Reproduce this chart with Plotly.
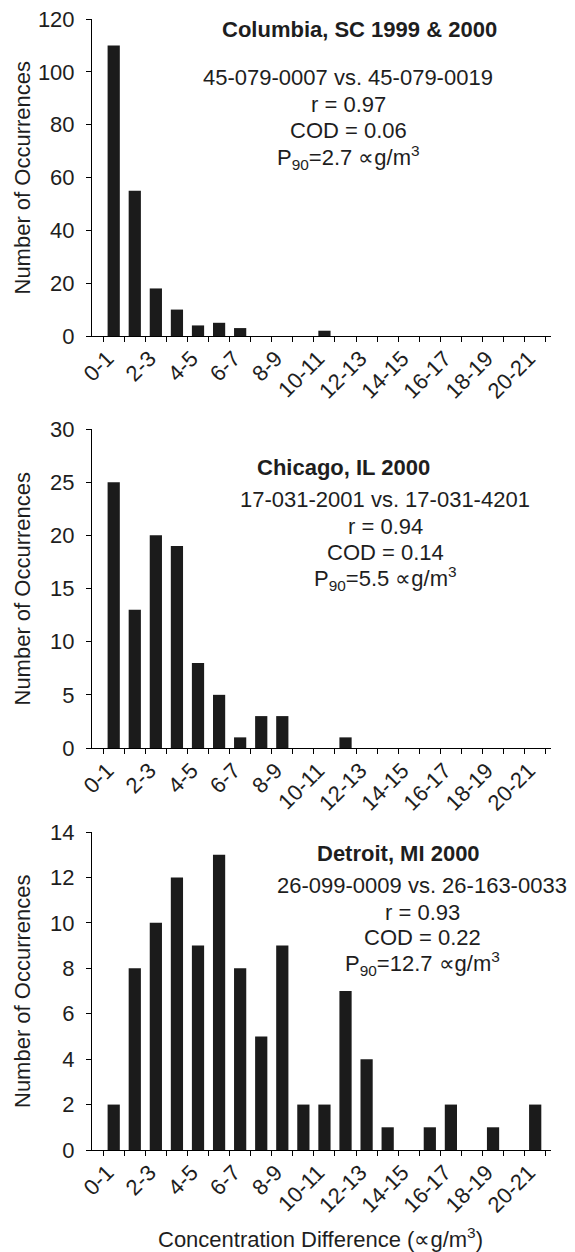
import plotly.graph_objects as go

# ---------------- data ----------------
categories = ["0-1", "1-2", "2-3", "3-4", "4-5", "5-6", "6-7", "7-8", "8-9", "9-10",
              "10-11", "11-12", "12-13", "13-14", "14-15", "15-16", "16-17", "17-18",
              "18-19", "19-20", "20-21"]

columbia_counts = [110, 55, 18, 10, 4, 5, 3, 0, 0, 0, 2, 0, 0, 0, 0, 0, 0, 0, 0, 0, 0]
chicago_counts = [25, 13, 20, 19, 8, 5, 1, 3, 3, 0, 0, 1, 0, 0, 0, 0, 0, 0, 0, 0, 0]
detroit_counts = [2, 8, 10, 12, 9, 13, 8, 5, 9, 2, 2, 7, 4, 1, 0, 1, 2, 0, 1, 0, 2]

panel_titles = ["Columbia, SC 1999 &amp; 2000", "Chicago, IL 2000", "Detroit, MI 2000"]
site_pairs = ["45-079-0007 vs. 45-079-0019", "17-031-2001 vs. 17-031-4201",
              "26-099-0009 vs. 26-163-0033"]
r_values = ["0.97", "0.94", "0.93"]
cod_values = ["0.06", "0.14", "0.22"]
p90_values = ["2.7", "5.5", "12.7"]
y_max = [120, 30, 14]
y_step = [20, 5, 2]

y_title = "Number of Occurrences"
x_title = "Concentration Difference (\u221dg/m<sup>3</sup>)"

# ---------------- layout helpers ----------------
W, H = 575, 1252
ML, MR, MT, MB = 92, 24, 19, 102
PW = W - ML - MR
PH = H - MT - MB
FONT = "Liberation Sans, Arial, sans-serif"
TXT = "#1e1e1e"
FS = 22
LABEL_SHIFT = -0.3   # tick labels sit slightly left of the bar centres


def px(x, y):
    return (x - ML) / PW, 1 - (y - MT) / PH


# pixel extents of the three plot areas (top, bottom)
panel_px = [(19, 336), (429, 748), (832, 1150)]

# annotation positions in pixels: (title_x, title_y, lines_x, [line ys])
ann_px = [
    (359, 30, 348, [77, 104, 130, 157]),
    (343, 468, 385, [499, 526, 552, 578]),
    (398, 853, 422, [885, 912, 937, 963]),
]

fig = go.Figure()
x_idx = list(range(len(categories)))
all_counts = [columbia_counts, chicago_counts, detroit_counts]

annotations = []
for i, counts in enumerate(all_counts):
    sfx = "" if i == 0 else str(i + 1)
    fig.add_trace(go.Bar(
        x=x_idx, y=counts, width=0.58,
        marker=dict(color="#1b1b1b", line=dict(width=0)),
        xaxis="x" + sfx, yaxis="y" + sfx, showlegend=False,
        hovertext=categories,
    ))
    top, bot = panel_px[i]
    d0 = px(0, bot)[1]
    d1 = px(0, top)[1]
    xa = dict(
        domain=[0, 1], anchor="y" + sfx, automargin=False,
        range=[-1.03, 20.75],
        tickmode="array", tickvals=[v + LABEL_SHIFT for v in x_idx[::2]],
        ticktext=categories[::2],
        tickangle=-45, ticks="",
        showline=True, linecolor="black", linewidth=1,
        showgrid=False, zeroline=False,
        tickfont=dict(family=FONT, size=FS, color=TXT),
        minor=dict(tick0=-0.5, dtick=1, ticks="outside", ticklen=5,
                   tickcolor="black", tickwidth=1, showgrid=False),
    )
    ya = dict(
        domain=[max(0, d0), min(1, d1)], anchor="x" + sfx, automargin=False,
        range=[0, y_max[i]], tickmode="linear", tick0=0, dtick=y_step[i],
        ticks="outside", ticklen=5, tickcolor="black", tickwidth=1,
        ticklabelstandoff=7,
        showline=True, linecolor="black", linewidth=1,
        showgrid=False, zeroline=False,
        tickfont=dict(family=FONT, size=FS, color=TXT),
    )
    fig.update_layout(**{"xaxis" + sfx: xa, "yaxis" + sfx: ya})

    # y-axis title
    tx, ty = px(22, (top + bot) / 2)
    annotations.append(dict(
        text=y_title, x=tx, y=ty, xref="paper", yref="paper",
        textangle=-90, showarrow=False, xanchor="center", yanchor="middle",
        font=dict(family=FONT, size=FS, color=TXT)))

    # panel text
    t_x, t_y, l_x, l_ys = ann_px[i]
    ax, ay = px(t_x, t_y)
    annotations.append(dict(
        text="<b>" + panel_titles[i] + "</b>", x=ax, y=ay, xref="paper", yref="paper",
        showarrow=False, xanchor="center", yanchor="middle",
        font=dict(family=FONT, size=FS, color=TXT)))
    lines = [
        site_pairs[i],
        "r = " + r_values[i],
        "COD = " + cod_values[i],
        "P<sub>90</sub>=" + p90_values[i] + " \u221dg/m<sup>3</sup>",
    ]
    for txt, ly in zip(lines, l_ys):
        lx, lyy = px(l_x, ly)
        annotations.append(dict(
            text=txt, x=lx, y=lyy, xref="paper", yref="paper",
            showarrow=False, xanchor="center", yanchor="middle",
            font=dict(family=FONT, size=FS, color=TXT)))

# x-axis title
xt, yt = px(320, 1238)
annotations.append(dict(
    text=x_title, x=xt, y=yt, xref="paper", yref="paper",
    showarrow=False, xanchor="center", yanchor="middle",
    font=dict(family=FONT, size=FS, color=TXT)))

fig.update_layout(
    width=W, height=H,
    margin=dict(l=ML, r=MR, t=MT, b=MB, autoexpand=False),
    paper_bgcolor="white", plot_bgcolor="white",
    annotations=annotations,
    font=dict(family=FONT, size=FS, color=TXT),
    hovermode=False,
)

fig.write_html(
    "out.html",
    config={"displayModeBar": False, "staticPlot": True},
    post_script="document.body.style.margin='0';document.body.style.padding='0';"
                "document.documentElement.style.overflow='hidden';",
)
